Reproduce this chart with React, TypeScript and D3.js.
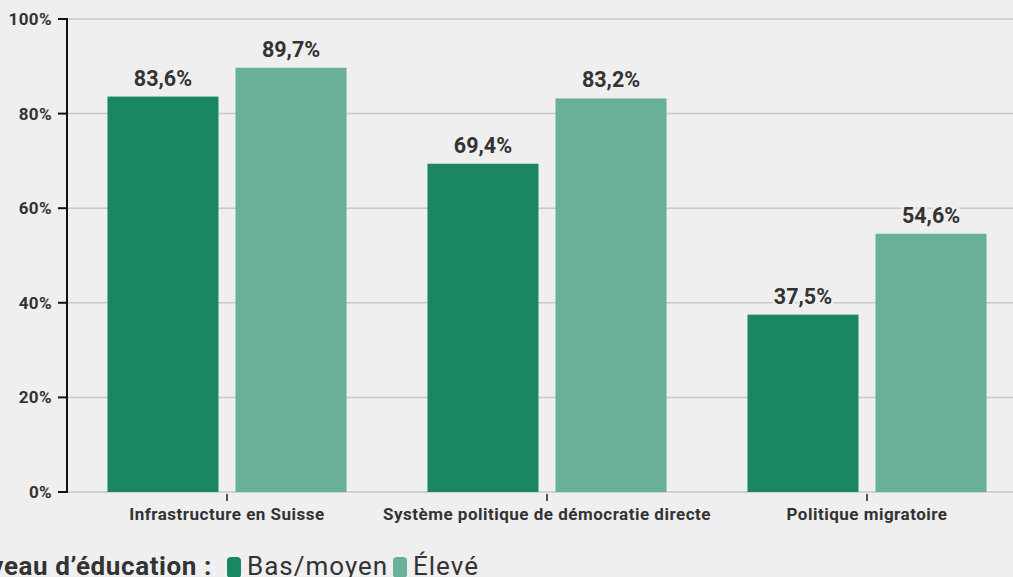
import React from "react";
import * as d3 from "d3";

const categories = ["Infrastructure en Suisse", "Système politique de démocratie directe", "Politique migratoire"];
const seriesNames = ["Bas/moyen", "Élevé"];
const basMoyen = [83.6, 69.4, 37.5];
const eleve = [89.7, 83.2, 54.6];
const yTicks = [0, 20, 40, 60, 80, 100];
const colors = ["#1b8761", "#68b096"];
const legendTitle = "Niveau d’éducation :";

const W = 1013;
const H = 577;
const BG = "#efefef";
const FONT = "Roboto, 'Noto Sans', sans-serif";

export default function App() {
  const values = [basMoyen, eleve];
  const x0 = d3.scaleBand<string>().domain(categories).range([67, 1027]).paddingInner(0).paddingOuter(0);
  const x1 = d3
    .scaleBand<string>()
    .domain(seriesNames)
    .range([0, x0.bandwidth()])
    .paddingInner(0.133)
    .paddingOuter(0.316);
  const y = d3.scaleLinear().domain([0, 100]).range([492, 19]);
  const fmt = (v: number) => v.toFixed(1).replace(".", ",") + "%";
  const legendX = [227, 393];

  return (
    <div style={{ position: "absolute", left: 0, top: 0, width: W, height: H, overflow: "hidden", background: BG }}>
      <svg width={W} height={H} style={{ display: "block", fontFamily: FONT }}>
        <rect x={0} y={0} width={W} height={H} fill={BG} />
        {yTicks.map((t) => (
          <g key={t}>
            <line x1={67} x2={W} y1={y(t)} y2={y(t)} stroke="#c8c8c8" strokeWidth={1.5} />
            <line x1={58} x2={67} y1={y(t)} y2={y(t)} stroke="#111" strokeWidth={2} />
            <text
              x={52}
              y={y(t)}
              dy="0.35em"
              textAnchor="end"
              fontSize={17}
              fontWeight={700}
              fill="#333"
              letterSpacing={0.4}
            >
              {t}%
            </text>
          </g>
        ))}
        {categories.map((c, ci) =>
          seriesNames.map((s, si) => {
            const v = values[si][ci];
            const bx = (x0(c) ?? 0) + (x1(s) ?? 0);
            return (
              <rect key={c + s} x={bx} y={y(v)} width={x1.bandwidth()} height={y(0) - y(v)} fill={colors[si]} />
            );
          })
        )}
        <line x1={67} x2={67} y1={y(100) - 1} y2={y(0) + 1} stroke="#111" strokeWidth={2} />
        {categories.map((c, ci) =>
          seriesNames.map((s, si) => {
            const v = values[si][ci];
            const cx = (x0(c) ?? 0) + (x1(s) ?? 0) + x1.bandwidth() / 2;
            return (
              <text
                key={"l" + c + s}
                x={cx}
                y={y(v) - 11}
                textAnchor="middle"
                fontSize={21.5}
                fontWeight={700}
                fill="#333"
                stroke={BG}
                strokeWidth={5}
                style={{ paintOrder: "stroke" }}
              >
                {fmt(v)}
              </text>
            );
          })
        )}
        {categories.map((c) => {
          const cx = (x0(c) ?? 0) + x0.bandwidth() / 2;
          return (
            <g key={"x" + c}>
              <line x1={cx} x2={cx} y1={494} y2={501} stroke="#222" strokeWidth={1.5} />
              <text
                x={cx}
                y={520}
                textAnchor="middle"
                fontSize={17}
                fontWeight={700}
                fill="#333"
                letterSpacing={0.5}
              >
                {c}
              </text>
            </g>
          );
        })}
        <g>
          <text x={212} y={575} textAnchor="end" fontSize={26} fontWeight={700} fill="#333" letterSpacing={0.6}>
            {legendTitle}
          </text>
          {seriesNames.map((s, i) => (
            <g key={"lg" + s}>
              <rect x={legendX[i]} y={557} width={14} height={21} rx={4} fill={colors[i]} />
              <text x={legendX[i] + 20} y={575} fontSize={26} fill="#333" letterSpacing={1}>
                {s}
              </text>
            </g>
          ))}
        </g>
      </svg>
    </div>
  );
}
